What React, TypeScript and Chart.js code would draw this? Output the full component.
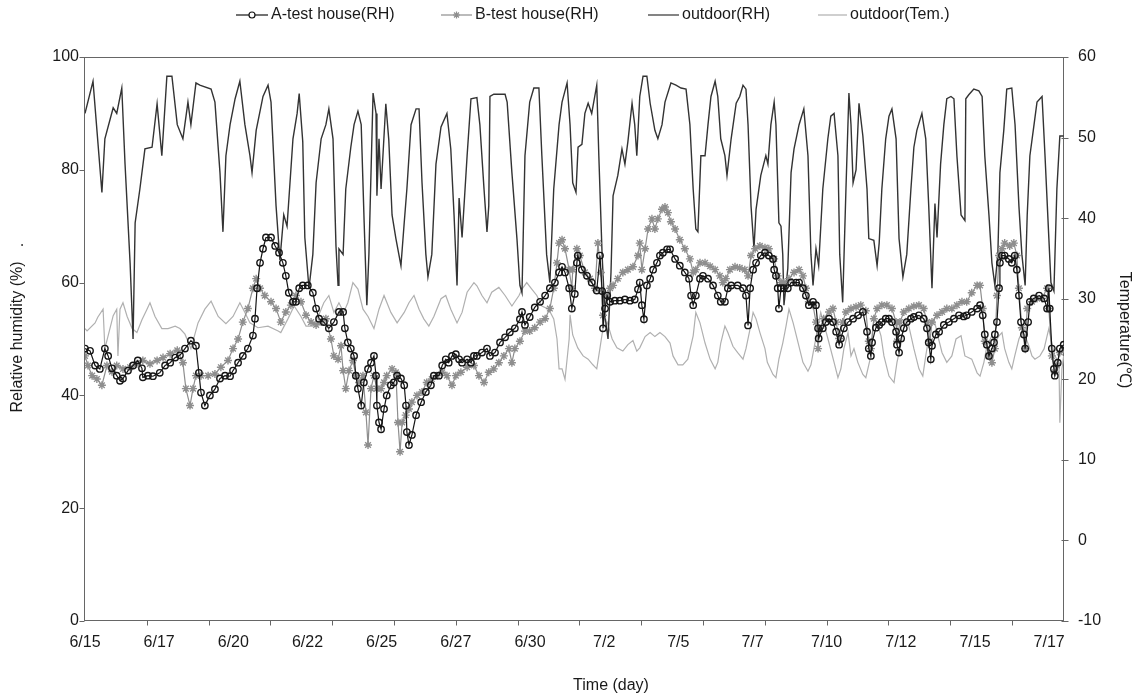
import React, { useEffect, useRef } from 'react';
import { Chart, registerables } from 'chart.js';

Chart.register(...registerables);

// ---------- axis definitions ----------
const xTickLabels = ['6/15', '6/17', '6/20', '6/22', '6/25', '6/27', '6/30', '7/2', '7/5', '7/7', '7/10', '7/12', '7/15', '7/17'];
const xLabelStepDays = 2.5;
const xTickMarkStepDays = 50 / 24;
const xMaxDays = 33;
const rhTicks = [0, 20, 40, 60, 80, 100];
const tempTicks = [-10, 0, 10, 20, 30, 40, 50, 60];

// ---------- outdoor RH (days since 6/15 00:00, %) ----------
const outdoorRhDays = [0, 0.27, 0.57, 0.67, 0.95, 1.07, 1.24, 1.35, 1.52, 1.62,
  1.69, 1.85, 2.02, 2.26, 2.43, 2.59, 2.76, 2.93, 3.11, 3.30,
  3.47, 3.57, 3.74, 3.87, 4.25, 4.38, 4.55, 4.65, 4.75, 4.89,
  5.06, 5.22, 5.39, 5.56, 5.63, 5.77, 6.00, 6.17, 6.27, 6.44,
  6.57, 6.70, 6.81, 6.91, 7.01, 7.15, 7.22, 7.34, 7.41, 7.55,
  7.68, 7.79, 7.96, 8.12, 8.22, 8.36, 8.46, 8.53, 8.56, 8.70,
  8.79, 8.96, 9.07, 9.20, 9.31, 9.41, 9.50, 9.57, 9.71, 9.81,
  9.84, 9.91, 9.98, 10.14, 10.24, 10.35, 10.48, 10.65, 10.76, 10.85,
  10.99, 11.16, 11.26, 11.36, 11.49, 11.56, 11.69, 11.83, 12.00, 12.20,
  12.33, 12.44, 12.54, 12.61, 12.71, 12.88, 13.01, 13.21, 13.31, 13.45,
  13.55, 13.61, 13.65, 13.78, 14.16, 14.23, 14.39, 14.56, 14.66, 14.73,
  14.83, 14.99, 15.13, 15.30, 15.40, 15.56, 15.67, 15.80, 15.98, 16.08,
  16.25, 16.35, 16.44, 16.55, 16.62, 16.75, 16.85, 16.96, 17.08, 17.25,
  17.32, 17.43, 17.53, 17.63, 17.73, 17.80, 17.96, 18.10, 18.20, 18.30,
  18.44, 18.53, 18.60, 18.70, 18.81, 18.94, 19.05, 19.21, 19.31, 19.45,
  19.55, 19.75, 19.92, 20.09, 20.26, 20.39, 20.50, 20.59, 20.66, 20.76,
  20.90, 21.00, 21.10, 21.24, 21.33, 21.43, 21.57, 21.64, 21.78, 21.95,
  22.07, 22.18, 22.28, 22.35, 22.45, 22.55, 22.62, 22.78, 22.95, 23.02,
  23.12, 23.23, 23.29, 23.39, 23.46, 23.52, 23.56, 23.69, 23.80, 23.90,
  24.07, 24.23, 24.37, 24.47, 24.54, 24.64, 24.73, 24.87, 25.04, 25.14,
  25.25, 25.38, 25.44, 25.54, 25.65, 25.75, 25.82, 25.89, 25.99, 26.09,
  26.22, 26.36, 26.42, 26.59, 26.70, 26.77, 26.86, 26.99, 27.10, 27.20,
  27.34, 27.44, 27.57, 27.70, 27.84, 27.94, 28.04, 28.21, 28.34, 28.44,
  28.55, 28.65, 28.72, 28.84, 28.95, 29.05, 29.19, 29.29, 29.39, 29.53,
  29.66, 29.69, 29.79, 29.96, 30.13, 30.24, 30.33, 30.47, 30.57, 30.67,
  30.77, 30.84, 30.97, 31.07, 31.24, 31.35, 31.48, 31.58, 31.69, 31.76,
  31.85, 31.99, 32.09, 32.26, 32.36, 32.49, 32.56, 32.66, 32.76, 32.86,
  32.99];
const outdoorRh = [90, 95.7, 76, 85.5, 91, 90, 94.5, 81, 63.5, 50,
  70.6, 76.6, 83.7, 84, 91.7, 82.5, 96.6, 96.6, 88, 85.5,
  92, 88, 95.4, 95, 94.3, 92, 79.5, 69, 82.5, 88,
  92.6, 95.7, 88, 82.5, 79.5, 87, 93, 95, 92, 73.6,
  64, 72, 70, 77.7, 85.5, 90, 93.5, 85, 68, 59,
  65, 77.7, 85.5, 88, 90.8, 85.5, 66.5, 59.5, 66, 65,
  76.6, 84, 88, 90.4, 88, 70.6, 56, 65, 93.6, 90,
  75.4, 85.5, 76.6, 91.7, 85.3, 72, 67.8, 63, 70.6, 76.6,
  88, 90.8, 90.8, 77.7, 65, 61, 65, 81, 87.6, 90,
  83.7, 72, 59.5, 75, 68, 82.5, 92.6, 92.8, 88, 76.6,
  69, 73.6, 93, 93.4, 93.4, 92, 79.5, 67.8, 59.5, 58.2,
  82.5, 92, 94.5, 94.5, 82.5, 65, 60, 76.6, 88, 92,
  95.4, 88, 77.7, 76, 84, 84.5, 90, 91.8, 90, 95,
  82.5, 65, 54, 50, 61.8, 75.4, 79, 83.7, 81, 85,
  91.8, 88, 82.5, 93, 96.6, 96.6, 91.8, 87, 85.5, 88,
  92, 95.4, 95, 94.5, 94.3, 88, 76.6, 69.5, 69, 82.5,
  82.5, 88, 93, 95.7, 93, 85.5, 82.5, 79, 85.5, 91.8,
  93, 95, 94.3, 88, 73.6, 66, 73, 79, 82.5, 81,
  88, 92, 88, 70.6, 70, 65, 56, 62.5, 79.5, 83.7,
  88, 90.8, 82.5, 65, 59.5, 66, 63, 76.6, 85.5, 89.5,
  90, 82.5, 65, 56.5, 76.6, 93.6, 88, 77.7, 80, 91.8,
  86, 76.6, 67.8, 67.5, 63, 67, 76.6, 85.5, 89.5, 90.8,
  85.5, 67.8, 61, 65, 76.6, 84, 87, 90, 85.5, 73.6,
  59, 74, 68, 81, 88, 92.6, 93, 92.6, 82.5, 72,
  71, 92.6, 93.3, 94.3, 94, 93, 82.5, 72, 63.5, 59.5,
  65, 79.5, 87, 94.3, 94.5, 88, 73.6, 65, 59.5, 72,
  82.5, 88, 92, 93, 82.5, 67.8, 60, 58.5, 76.6, 86,
  86];

// ---------- A-test house RH ----------
const aDays = [0, 0.17, 0.34, 0.50, 0.67, 0.78, 0.91, 1.07, 1.18, 1.28,
  1.45, 1.62, 1.78, 1.92, 1.95, 2.12, 2.29, 2.52, 2.70, 2.87,
  3.04, 3.20, 3.37, 3.57, 3.74, 3.84, 3.91, 4.04, 4.21, 4.38,
  4.55, 4.72, 4.89, 4.99, 5.16, 5.32, 5.49, 5.66, 5.73, 5.80,
  5.90, 6.00, 6.10, 6.27, 6.41, 6.54, 6.67, 6.77, 6.87, 7.01,
  7.11, 7.22, 7.34, 7.51, 7.68, 7.79, 7.89, 8.05, 8.22, 8.39,
  8.56, 8.70, 8.76, 8.86, 8.96, 9.07, 9.13, 9.20, 9.31, 9.40,
  9.54, 9.64, 9.74, 9.81, 9.84, 9.91, 9.98, 10.08, 10.17, 10.31,
  10.41, 10.52, 10.65, 10.76, 10.82, 10.85, 10.92, 11.02, 11.16, 11.33,
  11.49, 11.66, 11.76, 11.93, 12.04, 12.16, 12.26, 12.37, 12.50, 12.61,
  12.71, 12.88, 13.01, 13.11, 13.21, 13.38, 13.55, 13.65, 13.82, 13.99,
  14.16, 14.32, 14.49, 14.66, 14.73, 14.83, 14.99, 15.16, 15.34, 15.51,
  15.67, 15.84, 15.98, 16.08, 16.18, 16.32, 16.41, 16.51, 16.58, 16.61,
  16.75, 16.92, 17.08, 17.25, 17.36, 17.43, 17.46, 17.53, 17.60, 17.70,
  17.86, 18.03, 18.20, 18.37, 18.53, 18.64, 18.70, 18.77, 18.84, 18.94,
  19.05, 19.15, 19.28, 19.38, 19.48, 19.62, 19.72, 19.89, 20.05, 20.22,
  20.36, 20.43, 20.50, 20.59, 20.73, 20.83, 21.00, 21.17, 21.33, 21.43,
  21.57, 21.67, 21.78, 22.00, 22.18, 22.28, 22.35, 22.42, 22.52, 22.62,
  22.78, 22.92, 23.05, 23.19, 23.23, 23.29, 23.35, 23.39, 23.46, 23.56,
  23.69, 23.80, 23.97, 24.07, 24.20, 24.30, 24.40, 24.54, 24.64, 24.71,
  24.73, 24.87, 24.97, 25.08, 25.21, 25.32, 25.42, 25.48, 25.58, 25.72,
  25.89, 26.06, 26.22, 26.36, 26.42, 26.49, 26.53, 26.66, 26.77, 26.86,
  26.99, 27.10, 27.20, 27.34, 27.37, 27.44, 27.51, 27.60, 27.70, 27.84,
  27.94, 28.11, 28.27, 28.38, 28.44, 28.51, 28.55, 28.68, 28.79, 28.95,
  29.12, 29.29, 29.46, 29.62, 29.72, 29.89, 30.07, 30.17, 30.26, 30.33,
  30.40, 30.47, 30.57, 30.64, 30.67, 30.74, 30.81, 30.84, 30.91, 31.00,
  31.14, 31.24, 31.34, 31.41, 31.48, 31.55, 31.65, 31.69, 31.79, 31.85,
  31.98, 32.16, 32.33, 32.43, 32.49, 32.52, 32.59, 32.66, 32.69, 32.79,
  32.86, 32.99];
const aRh = [48.3, 47.9, 45.3, 44.7, 48.3, 47, 44.8, 43.5, 42.6, 43,
  44.4, 45.3, 46.2, 44.8, 43.2, 43.5, 43.4, 44, 45.3, 45.8,
  46.7, 47.1, 48.3, 49.7, 48.8, 44, 40.5, 38.2, 40, 41.1,
  43, 43.5, 43.4, 44.4, 45.8, 47, 48.3, 50.6, 53.6, 59,
  63.5, 66, 68, 68, 66.5, 65.3, 63.5, 61.2, 58.2, 56.6,
  56.6, 59, 59.5, 59.5, 58.2, 55.4, 53.6, 53, 51.9, 53,
  54.8, 54.8, 51.9, 49.4, 48.3, 47, 43.5, 41.2, 38.2, 42.3,
  44.7, 45.8, 47, 43.5, 38.2, 35.2, 34, 37.6, 40, 41.8,
  42.3, 43.5, 43, 41.8, 38.2, 33.5, 31.2, 33, 36.5, 38.8,
  40.6, 41.8, 43.5, 43.5, 45.3, 46.4, 45.8, 47, 47.3, 46.4,
  45.8, 46.4, 45.8, 47, 47, 47.6, 48.3, 47, 47.6, 49.4,
  50.3, 51.2, 51.9, 53.5, 54.8, 52.5, 53.9, 55.6, 56.6, 57.7,
  59, 60, 61.8, 62.8, 61.8, 59, 55.4, 58, 63.5, 64.8,
  62.3, 61.2, 60, 58.6, 64.8, 58.5, 51.9, 55.4, 57.7, 56.6,
  56.8, 56.8, 57, 56.8, 57, 58.8, 60, 56, 53.5, 59.5,
  60.7, 62.3, 63.5, 64.8, 65.3, 65.9, 65.9, 64.2, 63, 61.8,
  60.7, 57.7, 56, 57.7, 60.7, 61.2, 60.7, 59.5, 57.7, 56.6,
  56.6, 59, 59.5, 59.5, 59, 57.7, 52.4, 59, 62.3, 63.5,
  64.8, 65.3, 64.8, 64.2, 62.3, 61.2, 59, 55.4, 59, 59,
  59, 60, 60, 60, 59, 57.7, 56, 56.6, 56, 51.9,
  50.1, 51.9, 53, 53.6, 53, 51.3, 49, 50.1, 51.9, 53,
  53.6, 54.2, 54.8, 51.3, 48.3, 47, 49.4, 52, 52.5, 53,
  53.6, 53.6, 53, 51.3, 49, 47.6, 50.1, 51.9, 53, 53.6,
  53.9, 54.2, 53.6, 51.9, 49.4, 46.4, 48.8, 50.8, 51.3, 52.5,
  53, 53.6, 54.2, 54, 54.2, 54.8, 55.4, 56, 54.2, 50.8,
  49, 47, 48.3, 49.4, 50.8, 53, 59, 63.5, 64.8, 64.8,
  64.2, 63.5, 64.8, 62.3, 57.7, 53, 50.8, 48.3, 53, 56.6,
  57.2, 57.7, 57.2, 55.4, 59, 55.4, 48.3, 44.7, 43.5, 45.8,
  48.3, 49];

// ---------- B-test house RH ----------
const bDays = [0, 0.10, 0.24, 0.40, 0.57, 0.74, 0.91, 1.07, 1.28, 1.52,
  1.75, 1.95, 2.19, 2.43, 2.63, 2.87, 3.11, 3.30, 3.40, 3.54,
  3.64, 3.74, 3.91, 4.15, 4.38, 4.58, 4.82, 4.99, 5.16, 5.32,
  5.49, 5.66, 5.77, 5.90, 6.06, 6.27, 6.44, 6.60, 6.77, 6.94,
  7.11, 7.28, 7.45, 7.62, 7.79, 7.96, 8.12, 8.29, 8.39, 8.53,
  8.63, 8.70, 8.79, 8.90, 9.03, 9.13, 9.24, 9.37, 9.47, 9.54,
  9.64, 9.74, 9.84, 9.98, 10.08, 10.17, 10.35, 10.48, 10.55, 10.62,
  10.69, 10.81, 10.92, 11.02, 11.19, 11.36, 11.52, 11.69, 11.86, 12.04,
  12.20, 12.37, 12.50, 12.67, 12.88, 13.11, 13.28, 13.45, 13.61, 13.78,
  13.95, 14.12, 14.29, 14.39, 14.49, 14.66, 14.83, 14.99, 15.16, 15.34,
  15.51, 15.67, 15.80, 15.91, 15.98, 16.08, 16.18, 16.32, 16.41, 16.44,
  16.58, 16.68, 16.85, 17.02, 17.19, 17.29, 17.39, 17.46, 17.60, 17.70,
  17.80, 17.96, 18.13, 18.30, 18.47, 18.64, 18.70, 18.77, 18.88, 18.98,
  19.11, 19.21, 19.31, 19.45, 19.55, 19.65, 19.75, 19.89, 20.05, 20.22,
  20.39, 20.50, 20.59, 20.73, 20.90, 21.07, 21.24, 21.40, 21.50, 21.60,
  21.74, 21.91, 22.07, 22.24, 22.35, 22.45, 22.59, 22.75, 22.92, 23.05,
  23.23, 23.35, 23.46, 23.56, 23.73, 23.90, 24.07, 24.20, 24.30, 24.40,
  24.54, 24.64, 24.71, 24.77, 24.90, 25.08, 25.21, 25.32, 25.42, 25.54,
  25.65, 25.82, 25.99, 26.15, 26.32, 26.42, 26.49, 26.59, 26.70, 26.86,
  27.03, 27.20, 27.34, 27.37, 27.47, 27.60, 27.77, 27.94, 28.11, 28.27,
  28.38, 28.48, 28.55, 28.72, 28.89, 29.05, 29.22, 29.39, 29.56, 29.72,
  29.89, 30.07, 30.17, 30.26, 30.33, 30.47, 30.57, 30.67, 30.74, 30.81,
  30.91, 31.00, 31.17, 31.31, 31.41, 31.48, 31.58, 31.69, 31.76, 31.92,
  32.09, 32.26, 32.43, 32.49, 32.59, 32.69, 32.76, 32.86, 32.99];
const bRh = [47, 45.3, 43.5, 42.9, 41.8, 45.3, 44.2, 45.3, 44.7, 45,
  45.6, 46.2, 45.6, 46.2, 46.7, 47.4, 48, 45.8, 41.2, 38.2,
  41.2, 43.5, 43.5, 43.5, 43.8, 45, 46.2, 48.3, 50, 53,
  55.4, 59, 60.7, 59, 57.7, 56.6, 55.4, 53, 54.8, 56,
  57.7, 56.6, 54.2, 53, 52.5, 53, 53.6, 50, 47, 46.4,
  48.8, 44.4, 41.2, 44.4, 46.2, 43.5, 42.3, 43.5, 37, 31.2,
  41.2, 43.5, 41.2, 41.2, 42.3, 43.5, 44.7, 44.1, 35.2, 30,
  35.2, 36.5, 37.6, 38.8, 40, 40.6, 42.3, 42.9, 43.5, 44.1,
  43.5, 41.8, 43.5, 44.1, 45, 45.3, 43.5, 42.3, 44.1, 44.7,
  45.8, 47, 48.3, 45.8, 48.3, 49.6, 51.4, 51.4, 52, 53,
  53.6, 55.4, 59, 63.5, 67, 67.6, 66, 62.3, 59, 62.3,
  66, 64.8, 61.8, 60.7, 59, 67, 61.8, 54.2, 57.7, 59,
  59.5, 60.7, 61.8, 62.3, 62.8, 64.8, 67, 62.3, 66, 69.5,
  71.3, 69.5, 71.3, 73, 73.4, 72.4, 70.8, 69.5, 67.6, 66,
  64.2, 61.8, 62.3, 63.5, 63.5, 62.9, 62.3, 61.2, 60, 60.7,
  62.3, 62.8, 62.6, 62.3, 61.2, 64.8, 66, 66.5, 66.2, 66,
  64.2, 61.2, 60, 60, 60.7, 61.8, 62.3, 61.2, 59, 56.6,
  56, 53, 48.3, 51.9, 53.6, 54.8, 55.4, 53, 50.1, 53,
  54.8, 55.4, 55.7, 56, 55, 49.6, 48.3, 53.6, 55.4, 56,
  56, 55.4, 53, 49.6, 53, 54.8, 55.4, 55.8, 56, 55.4,
  53, 49.6, 53, 54.2, 54.8, 55.4, 55.4, 56, 56.6, 56.6,
  58.2, 59.5, 59.5, 55.4, 49.6, 47, 45.8, 48.3, 57.7, 64.8,
  66, 67, 66.5, 67, 64.8, 59, 52, 48.3, 55.4, 56.6,
  57.2, 57.2, 59, 55.4, 47, 44.1, 45.3, 47.6, 48.3];

// ---------- outdoor temperature (degC) ----------
const tempDays = [0, 0.07, 0.34, 0.43, 0.61, 0.67, 0.84, 0.95, 1.07, 1.11,
  1.18, 1.28, 1.42, 1.59, 1.75, 1.92, 2.09, 2.19, 2.36, 2.59,
  2.80, 3.04, 3.20, 3.37, 3.57, 3.81, 4.04, 4.25, 4.49, 4.75,
  4.99, 5.22, 5.39, 5.56, 5.83, 6.17, 6.51, 6.60, 6.84, 7.05,
  7.28, 7.45, 7.68, 7.86, 8.05, 8.22, 8.39, 8.56, 8.72, 8.86,
  9.03, 9.20, 9.37, 9.54, 9.74, 9.91, 10.08, 10.31, 10.52, 10.76,
  10.92, 11.09, 11.26, 11.42, 11.59, 11.76, 12.00, 12.16, 12.33, 12.54,
  12.71, 12.88, 13.11, 13.21, 13.38, 13.55, 13.71, 13.95, 14.16, 14.39,
  14.63, 14.73, 14.89, 15.06, 15.23, 15.40, 15.63, 15.80, 15.91, 15.98,
  16.08, 16.18, 16.32, 16.35, 16.44, 16.61, 16.79, 16.96, 17.12, 17.25,
  17.36, 17.46, 17.60, 17.77, 17.93, 18.13, 18.30, 18.47, 18.60, 18.70,
  18.88, 19.05, 19.21, 19.38, 19.55, 19.72, 19.82, 19.99, 20.15, 20.32,
  20.50, 20.59, 20.73, 20.90, 21.07, 21.24, 21.33, 21.43, 21.57, 21.67,
  21.84, 22.00, 22.18, 22.28, 22.42, 22.52, 22.62, 22.75, 22.92, 23.00,
  23.19, 23.29, 23.39, 23.52, 23.63, 23.73, 23.87, 24.04, 24.20, 24.37,
  24.47, 24.57, 24.71, 24.80, 24.90, 25.08, 25.25, 25.38, 25.48, 25.58,
  25.72, 25.82, 25.92, 26.05, 26.22, 26.32, 26.49, 26.59, 26.70, 26.83,
  26.93, 27.10, 27.27, 27.37, 27.51, 27.60, 27.67, 27.77, 27.94, 28.11,
  28.24, 28.34, 28.41, 28.51, 28.62, 28.72, 28.89, 29.05, 29.22, 29.36,
  29.53, 29.66, 29.89, 30.07, 30.17, 30.30, 30.40, 30.57, 30.67, 30.81,
  30.91, 31.00, 31.14, 31.24, 31.34, 31.48, 31.58, 31.69, 31.82, 31.92,
  32.02, 32.19, 32.33, 32.43, 32.49, 32.59, 32.69, 32.83, 32.86, 32.93,
  32.99];
const tempC = [26.3, 26, 27, 27.7, 28.7, 23.8, 26.3, 27.9, 28.7, 22.9,
  28.7, 29.5, 27.8, 26.3, 25.8, 27.4, 28.7, 29.5, 27.8, 26.3,
  26.3, 26.6, 26.3, 25.6, 23.8, 27, 28.7, 29.7, 27.8, 26.9,
  27.8, 29.5, 28.3, 27, 26.4, 26.6, 26, 25.8, 27.5, 29.1,
  27.8, 26.6, 26.6, 27.8, 29.5, 30.4, 28.3, 29.5, 28.3, 29.5,
  32, 31.2, 28.7, 27.8, 26.3, 28.7, 30.4, 28.3, 27, 28.3,
  29.5, 30.4, 28.7, 27.5, 26.6, 27.8, 30, 30.4, 28.7, 27,
  28.3, 30.8, 32, 31.6, 30.4, 29.5, 30.8, 31.4, 30.4, 29.1,
  30.4, 31.2, 32, 31.2, 30.4, 29.1, 28.7, 27.5, 25, 21.3,
  21.3, 20, 25, 28, 25.5, 23.9, 22.9, 22.5, 21.8, 21.3,
  23.9, 26.3, 27.1, 25, 23.9, 23.5, 24.3, 24.8, 23.5, 23.9,
  25.3, 25.8, 25.3, 25.8, 25.3, 24.5, 22.9, 21.8, 21.8, 22.5,
  25.4, 28.3, 27, 24.5, 22.5, 21.3, 22.1, 24.5, 26.6, 25.8,
  24.1, 23.3, 22.5, 23.8, 26.3, 28.3, 27.5, 25.8, 23.8, 22.1,
  20.6, 20.2, 22.5, 24.5, 26.6, 28.7, 27, 24.5, 22.1, 21,
  21.8, 23.8, 26.6, 28.3, 27, 24.5, 22.1, 20.2, 21.3, 23.8,
  25.8, 22.9, 23.8, 22.1, 20.6, 20.2, 22.9, 27.5, 27, 25.4,
  22.9, 20.4, 19.6, 22.1, 24.5, 26.6, 27.5, 26.6, 23.8, 21.3,
  20.4, 22.9, 24.5, 27, 27.5, 25.8, 23.3, 22.1, 22.9, 25,
  25.4, 22.9, 22.5, 20.8, 20.4, 22.1, 24.1, 25.4, 24.5, 25.4,
  25.8, 23.8, 22.1, 21.3, 22.9, 25, 25.8, 25.4, 24.1, 22.9,
  22.5, 22.9, 23.8, 25.4, 26.3, 24.5, 22.9, 22.1, 14.6, 21.3,
  22.9];

const FONT = "'Liberation Sans', Arial, Helvetica, sans-serif";
const TEXT = '#1a1a1a';
const AXIS = '#666666';

const COLORS = {
  a: '#151515',
  b: '#8e8e8e',
  rh: '#333333',
  temp: '#b0b0b0',
};

function pts(xs: number[], ys: number[]) {
  return xs.map((x, i) => ({ x, y: ys[i] }));
}

function drawStar(ctx: CanvasRenderingContext2D, x: number, y: number, r: number) {
  ctx.beginPath();
  ctx.moveTo(x - r, y); ctx.lineTo(x + r, y);
  ctx.moveTo(x, y - r); ctx.lineTo(x, y + r);
  const d = r * Math.SQRT1_2;
  ctx.moveTo(x - d, y - d); ctx.lineTo(x + d, y + d);
  ctx.moveTo(x - d, y + d); ctx.lineTo(x + d, y - d);
  ctx.stroke();
}

const decorPlugin = {
  id: 'decor',
  beforeDatasetsDraw(chart: any) {
    const { ctx, chartArea: a, scales } = chart;
    ctx.save();
    ctx.strokeStyle = AXIS;
    ctx.lineWidth = 1;
    const L = Math.round(a.left) - 0.5;
    const R = Math.round(a.right) - 0.5;
    const T = Math.round(a.top) + 0.5;
    const B = Math.round(a.bottom) - 0.5;
    ctx.strokeRect(L, T, R - L, B - T);
    ctx.beginPath();
    for (let k = 1; k * xTickMarkStepDays < xMaxDays; k++) {
      const px = Math.round(scales.x.getPixelForValue(k * xTickMarkStepDays)) + 0.5;
      ctx.moveTo(px, B); ctx.lineTo(px, B + 5);
    }
    rhTicks.forEach((v) => {
      const py = Math.round(scales.y.getPixelForValue(v)) + 0.5;
      ctx.moveTo(L - 5, py); ctx.lineTo(L, py);
    });
    tempTicks.forEach((v) => {
      const py = Math.round(scales.y1.getPixelForValue(v)) + 0.5;
      ctx.moveTo(R - 2, py); ctx.lineTo(R + 5, py);
    });
    ctx.stroke();
    ctx.restore();
  },
  afterDraw(chart: any) {
    const { ctx } = chart;
    ctx.save();
    ctx.fillStyle = TEXT;
    ctx.font = `16px ${FONT}`;
    ctx.textBaseline = 'middle';

    // legend
    const ly = 15;
    const items = [
      { x1: 236, x2: 268, tx: 271, text: 'A-test house(RH)', color: COLORS.a, mark: 'circle' },
      { x1: 441, x2: 472, tx: 475, text: 'B-test house(RH)', color: COLORS.b, mark: 'star' },
      { x1: 648, x2: 679, tx: 682, text: 'outdoor(RH)', color: COLORS.rh, mark: '' },
      { x1: 818, x2: 847, tx: 850, text: 'outdoor(Tem.)', color: COLORS.temp, mark: '' },
    ];
    items.forEach((it) => {
      ctx.strokeStyle = it.color;
      ctx.lineWidth = 1.2;
      ctx.beginPath();
      ctx.moveTo(it.x1, ly); ctx.lineTo(it.x2, ly);
      ctx.stroke();
      const cx = (it.x1 + it.x2) / 2;
      if (it.mark === 'circle') {
        ctx.beginPath(); ctx.arc(cx, ly, 3, 0, Math.PI * 2);
        ctx.fillStyle = '#fff'; ctx.fill(); ctx.stroke();
      } else if (it.mark === 'star') {
        drawStar(ctx, cx, ly, 3.5);
      }
      ctx.fillStyle = TEXT;
      ctx.textAlign = 'left';
      ctx.fillText(it.text, it.tx, ly);
    });

    // axis titles
    ctx.textAlign = 'center';
    ctx.save();
    ctx.translate(18, 337);
    ctx.rotate(-Math.PI / 2);
    ctx.fillText('Relative humidity (%)', 0, 0);
    ctx.restore();
    ctx.save();
    ctx.translate(19, 245);
    ctx.rotate(-Math.PI / 2);
    ctx.fillText('.', 0, 0);
    ctx.restore();
    ctx.save();
    ctx.translate(1124, 330);
    ctx.rotate(Math.PI / 2);
    ctx.fillText('Temperature(\u2103)', 0, 0);
    ctx.restore();
    ctx.fillText('Time (day)', 611, 686);
    ctx.restore();
  },
};

export default function App() {
  const ref = useRef<HTMLCanvasElement>(null);
  useEffect(() => {
    document.body.style.margin = '0';
    const canvas = ref.current;
    if (!canvas) return;
    const tickFont = { family: FONT, size: 16 };
    const chart = new Chart(canvas, {
      type: 'line',
      data: {
        datasets: [
          {
            label: 'A-test house(RH)',
            data: pts(aDays, aRh),
            yAxisID: 'y',
            borderColor: COLORS.a,
            borderWidth: 1.2,
            pointStyle: 'circle',
            pointRadius: 3.2,
            pointBorderWidth: 1.4,
            pointBorderColor: COLORS.a,
            pointBackgroundColor: 'rgba(255,255,255,0)',
            tension: 0,
            order: 0,
          },
          {
            label: 'B-test house(RH)',
            data: pts(bDays, bRh),
            yAxisID: 'y',
            borderColor: COLORS.b,
            borderWidth: 1.2,
            pointStyle: 'star',
            pointRadius: 4,
            pointBorderWidth: 1.4,
            pointBorderColor: COLORS.b,
            pointBackgroundColor: COLORS.b,
            tension: 0,
            order: 1,
          },
          {
            label: 'outdoor(RH)',
            data: pts(outdoorRhDays, outdoorRh),
            yAxisID: 'y',
            borderColor: COLORS.rh,
            borderWidth: 1.4,
            pointRadius: 0,
            tension: 0,
            order: 2,
          },
          {
            label: 'outdoor(Tem.)',
            data: pts(tempDays, tempC),
            yAxisID: 'y1',
            borderColor: COLORS.temp,
            borderWidth: 1.2,
            pointRadius: 0,
            tension: 0,
            order: 3,
          },
        ],
      },
      options: {
        animation: false,
        responsive: false,
        maintainAspectRatio: false,
        events: [],
        layout: { padding: { top: 57, left: 0, right: 0, bottom: 0 } },
        plugins: { legend: { display: false }, tooltip: { enabled: false }, title: { display: false } },
        scales: {
          x: {
            type: 'linear',
            min: 0,
            max: xMaxDays,
            grid: { display: false, drawTicks: false },
            border: { display: false },
            afterBuildTicks: (scale: any) => {
              scale.ticks = xTickLabels.map((_, i) => ({ value: i * xLabelStepDays }));
            },
            afterFit: (scale: any) => { scale.height = 74; },
            ticks: {
              autoSkip: false,
              maxRotation: 0,
              padding: 12,
              color: TEXT,
              font: tickFont,
              callback: (_v: any, i: number) => xTickLabels[i] ?? '',
            },
          },
          y: {
            type: 'linear',
            position: 'left',
            min: 0,
            max: 100,
            grid: { display: false, drawTicks: false },
            border: { display: false },
            afterBuildTicks: (scale: any) => { scale.ticks = rhTicks.map((v) => ({ value: v })); },
            afterFit: (scale: any) => { scale.width = 85; },
            ticks: { padding: 6, color: TEXT, font: tickFont },
          },
          y1: {
            type: 'linear',
            position: 'right',
            min: -10,
            max: 60,
            grid: { display: false, drawTicks: false },
            border: { display: false },
            afterBuildTicks: (scale: any) => { scale.ticks = tempTicks.map((v) => ({ value: v })); },
            afterFit: (scale: any) => { scale.width = 76; },
            ticks: { padding: 14, color: TEXT, font: tickFont },
          },
        },
      },
      plugins: [decorPlugin],
    } as any);
    return () => chart.destroy();
  }, []);
  return (
    <div style={{ width: 1140, height: 695, background: '#fff' }}>
      <canvas ref={ref} width={1140} height={695} style={{ display: 'block' }} />
    </div>
  );
}
